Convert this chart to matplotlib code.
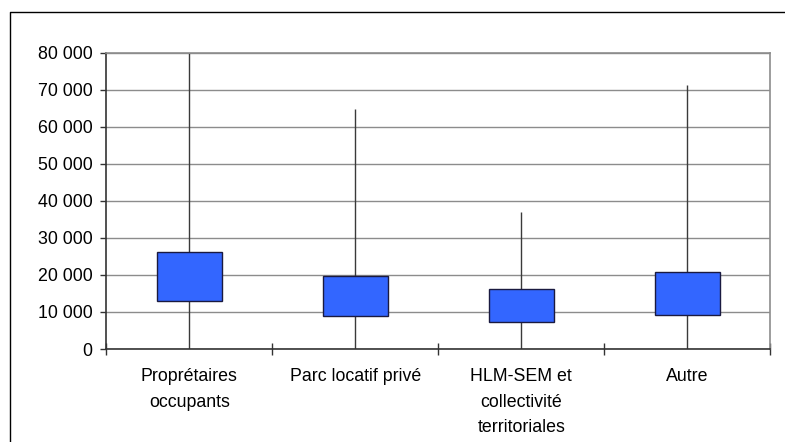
import numpy as np
import matplotlib
matplotlib.use("Agg")
import matplotlib.pyplot as plt
from matplotlib.lines import Line2D

# --- données ---
categories = ["Proprétaires\noccupants", "Parc locatif privé",
              "HLM-SEM et\ncollectivité\nterritoriales", "Autre"]
bas = [0, 0, 0, 0]                       # minimum (trait vertical)
q1 = [13000, 9000, 7200, 9100]           # bas de la boîte
q3 = [26100, 19800, 16200, 20700]        # haut de la boîte
haut = [80000, 64700, 37000, 71300]      # maximum (trait vertical)
yticks = np.arange(0, 80001, 10000)

plt.rcParams['font.family'] = ['Liberation Sans', 'DejaVu Sans']

fig = plt.figure(figsize=(7.85, 4.42), dpi=100)
ax = fig.add_axes([0.1354, 0.2104, 0.8459, 0.6704])

x = np.arange(1, len(categories) + 1)
box_w = 0.39

# traits min-max
ax.vlines(x, bas, haut, color='#3a3a3a', lw=1.0, zorder=2)
# boîtes
ax.bar(x, np.array(q3) - np.array(q1), bottom=q1, width=box_w,
       color='#3366FF', edgecolor='#1a1a40', lw=1.0, zorder=3)

ax.set_xlim(0.5, len(categories) + 0.5)
ax.set_ylim(0, 80000)
ax.set_yticks(yticks)
ax.set_yticklabels([f"{v:,}".replace(",", " ") for v in yticks], fontsize=12.8)
ax.yaxis.grid(True, color='#8c8c8c', lw=1.0)
ax.set_axisbelow(True)

# graduations aux frontières des catégories, étiquettes au centre
ax.set_xticks(np.arange(0.5, len(categories) + 1, 1.0))
ax.set_xticklabels([])
ax.set_xticks(x, minor=True)
ax.set_xticklabels(categories, minor=True, fontsize=12.8, linespacing=1.62)
ax.tick_params(axis='x', which='major', direction='inout', length=8,
               color='#333333', width=1)
ax.tick_params(axis='x', which='minor', length=0, pad=14)
ax.tick_params(axis='y', direction='out', length=4, color='#333333',
               width=1, pad=6)

for s in ['left', 'bottom']:
    ax.spines[s].set_color('#333333')
    ax.spines[s].set_linewidth(1.2)
for s in ['top', 'right']:
    ax.spines[s].set_color('#8c8c8c')
    ax.spines[s].set_linewidth(1.2)

# cadre extérieur (bord gauche et haut)
fig.add_artist(Line2D([9.5 / 785, 9.5 / 785, 1.0], [0.0, 1 - 11.5 / 442, 1 - 11.5 / 442],
                      transform=fig.transFigure, color='black', lw=1.0))

fig.savefig("out.png", dpi=100)
